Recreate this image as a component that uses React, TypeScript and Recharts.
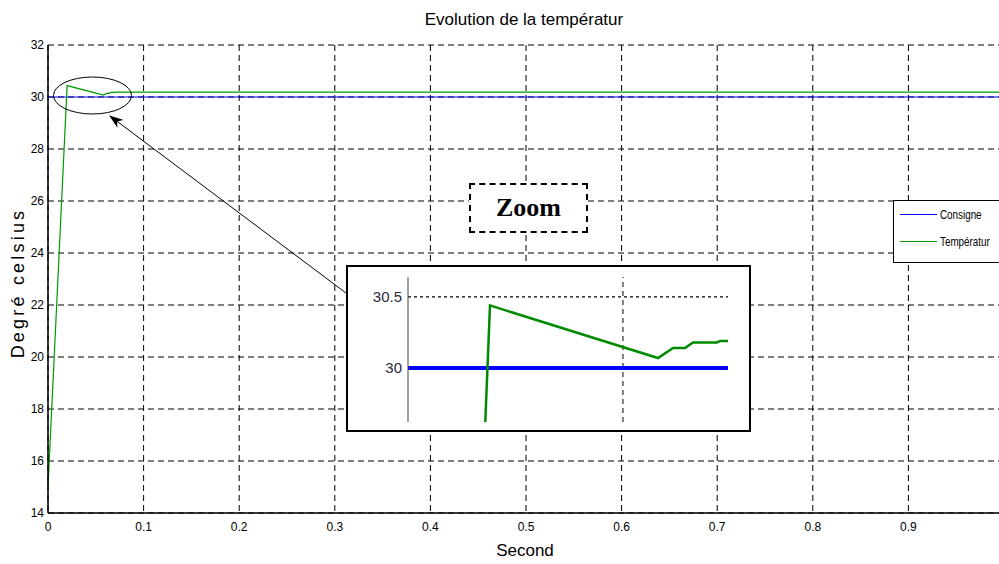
import React from 'react';
import {
  LineChart,
  Line,
  XAxis,
  YAxis,
  CartesianGrid,
  Legend,
  ReferenceLine,
} from 'recharts';

// values
const times = [0, 0.02, 0.0579, 0.0613, 0.064, 0.0658, 0.0712, 0.0719, 1];
const temperature = [15, 30.44, 30.07, 30.14, 30.14, 30.18, 30.18, 30.19, 30.19];
const consigne = [30, 30, 30, 30, 30, 30, 30, 30, 30];

// the 1.0 tick falls just past the right edge of the picture
const xTicks = [0, 0.1, 0.2, 0.3, 0.4, 0.5, 0.6, 0.7, 0.8, 0.9];
const yTicks = [14, 16, 18, 20, 22, 24, 26, 28, 30, 32];
const zoomTicks = [30, 30.5];

const data = times.map((t, i) => ({ t, consigne: consigne[i], temperature: temperature[i] }));

const NARROW = "'Liberation Sans Narrow', 'Arial Narrow', 'Liberation Sans', Arial, sans-serif";

const LegendBox = ({ payload }: any) => (
  <div
    style={{
      width: 120,
      height: 63,
      border: '1.5px solid #000',
      background: '#fff',
      boxSizing: 'border-box',
      fontFamily: NARROW,
      fontSize: 12,
    }}
  >
    {(payload || []).map((p: any) => (
      <div key={p.value} style={{ display: 'flex', alignItems: 'center', height: 27 }}>
        <div style={{ width: 37, height: 0, borderTop: `1px solid ${p.color}`, marginLeft: 6, marginRight: 3 }} />
        <span style={{ display: 'inline-block', transform: 'scaleX(0.82)', transformOrigin: 'left center', whiteSpace: 'nowrap' }}>
          {p.value}
        </span>
      </div>
    ))}
  </div>
);

export default function App() {
  return (
    <div
      style={{
        position: 'fixed',
        left: 0,
        top: 0,
        width: 999,
        height: 564,
        overflow: 'hidden',
        background: '#fff',
        fontFamily: NARROW,
      }}
    >
      <LineChart width={1020} height={564} data={data} margin={{ top: 45, right: 16, bottom: 21, left: 0 }}>
        <CartesianGrid stroke="#000" strokeDasharray="6 4" />
        <XAxis
          dataKey="t"
          type="number"
          domain={[0, 1]}
          ticks={xTicks}
          height={30}
          tickSize={0}
          tickMargin={9}
          tick={{ fill: '#000', fontSize: 12, fontFamily: NARROW }}
          axisLine={{ stroke: '#000', strokeWidth: 1.5 }}
          tickFormatter={(v) => String(v)}
        />
        <XAxis xAxisId="top" orientation="top" type="number" domain={[0, 1]} height={0} tick={false} tickLine={false} axisLine={{ stroke: '#000', strokeWidth: 1.5 }} />
        <YAxis
          type="number"
          domain={[14, 32]}
          ticks={yTicks}
          width={48}
          tickSize={0}
          tickMargin={4}
          tick={{ fill: '#000', fontSize: 12, fontFamily: NARROW }}
          axisLine={{ stroke: '#000', strokeWidth: 1.5 }}
        />
        <Legend
          layout="horizontal"
          verticalAlign="middle"
          align="center"
          content={<LegendBox />}
          wrapperStyle={{ position: 'absolute', left: 893, top: 200, width: 130 }}
        />
        <Line dataKey="consigne" name="Consigne" stroke="#0000ff" strokeWidth={1} dot={false} isAnimationActive={false} type="linear" />
        <Line dataKey="temperature" name="Températur" stroke="#009a00" strokeWidth={1.2} dot={false} isAnimationActive={false} type="linear" />
      </LineChart>

      <div style={{ position: 'absolute', left: 0, width: 1048, top: 10, textAlign: 'center', fontSize: 17 }}>
        Evolution de la températur
      </div>
      <div style={{ position: 'absolute', left: 0, width: 1050, top: 541, textAlign: 'center', fontSize: 17 }}>Second</div>
      <div
        style={{
          position: 'absolute',
          left: 18,
          top: 283,
          transform: 'translate(-50%, -50%) rotate(-90deg)',
          whiteSpace: 'nowrap',
          fontSize: 18,
          letterSpacing: 3.2,
        }}
      >
        Degré celsius
      </div>

      {/* zoom label */}
      <div
        style={{
          position: 'absolute',
          left: 469,
          top: 183,
          width: 119,
          height: 50,
          border: '2px dashed #000',
          boxSizing: 'border-box',
          background: '#fff',
          display: 'flex',
          alignItems: 'center',
          justifyContent: 'center',
          fontFamily: "'Liberation Serif', 'DejaVu Serif', serif",
          fontWeight: 'bold',
          fontSize: 26,
        }}
      >
        Zoom
      </div>

      {/* inset */}
      <div
        style={{
          position: 'absolute',
          left: 346,
          top: 265,
          width: 405,
          height: 167,
          border: '2px solid #000',
          boxSizing: 'border-box',
          background: '#fff',
        }}
      >
        <LineChart width={401} height={163} data={data} margin={{ top: 10, right: 21, bottom: 8, left: 0 }}>
          <XAxis dataKey="t" type="number" domain={[0.0015, 0.0737]} allowDataOverflow hide />
          <YAxis
            type="number"
            domain={[29.62, 30.64]}
            allowDataOverflow
            ticks={zoomTicks}
            width={60}
            tickSize={0}
            tickMargin={6}
            tick={{ fill: '#2a2a40', fontSize: 15, fontFamily: NARROW }}
            axisLine={{ stroke: '#444', strokeWidth: 1 }}
            tickFormatter={(v) => String(v)}
          />
          <ReferenceLine y={30.5} stroke="#000" strokeDasharray="3 3" strokeWidth={1.2} />
          <ReferenceLine x={0.05} stroke="#000" strokeDasharray="5 4" strokeWidth={1} />
          <Line dataKey="consigne" stroke="#0000ff" strokeWidth={4} dot={false} isAnimationActive={false} type="linear" />
          <Line dataKey="temperature" stroke="#008a00" strokeWidth={2.5} dot={false} isAnimationActive={false} type="linear" />
        </LineChart>
      </div>

      {/* ellipse and arrow */}
      <svg width={999} height={564} style={{ position: 'absolute', left: 0, top: 0, pointerEvents: 'none' }}>
        <defs>
          <marker id="head" markerWidth="14" markerHeight="10" refX="13" refY="5" orient="auto" markerUnits="userSpaceOnUse">
            <path d="M0,0 L14,5 L0,10 L4,5 Z" fill="#000" />
          </marker>
        </defs>
        <ellipse cx={92.5} cy={95.5} rx={39} ry={18.5} fill="none" stroke="#000" strokeWidth={1} />
        <line x1={346} y1={293} x2={110} y2={116} stroke="#000" strokeWidth={1} markerEnd="url(#head)" />
      </svg>
    </div>
  );
}
